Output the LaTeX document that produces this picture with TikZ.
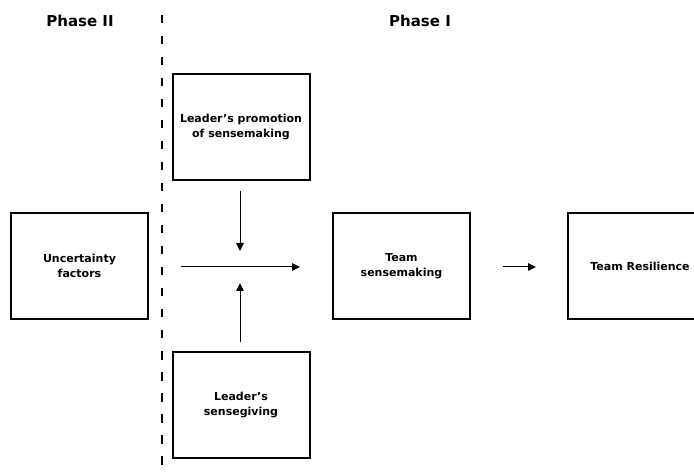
\documentclass[tikz,border=0pt]{standalone}
\usepackage{fontspec}
\setmainfont{DejaVu Sans}
\usetikzlibrary{arrows.meta}
\begin{document}
\begin{tikzpicture}[x=1pt,y=-1pt,
  box/.style={draw, line width=2pt, minimum width=137pt, minimum height=106pt,
    align=center, inner sep=0pt, font=\fontsize{11}{14.5}\selectfont\bfseries},
  phase/.style={font=\fontsize{15}{18}\selectfont\bfseries},
  flow/.style={line width=1pt, -{Triangle[length=8pt,width=7.5pt]}},
  divider/.style={line width=2.8pt, dash pattern=on 8.5pt off 12.5pt}]
  \useasboundingbox[fill=white] (0,0) rectangle (694,473);

  % phase headings
  \node[phase] (p2) at (80,21) {Phase II};
  \node[phase] (p1) at (420,21) {Phase I};

  % dashed separator between the phases
  \coordinate (sepTop) at (162,15);
  \coordinate (sepBot) at (162,480);
  \draw[divider] (sepTop) -- (sepBot);

  % boxes
  \node[box] (unc)  at (79.5,266) {Uncertainty\\factors};
  \node[box] (prom) at (241,127)  {Leader's promotion\\of sensemaking};
  \node[box] (give) at (241,405)  {Leader's\\sensegiving};
  \node[box] (team) at (401.5,266) {Team\\sensemaking};
  \node[box, minimum width=144pt] (res) at (640,266) {Team Resilience};

  % arrows
  \coordinate (hStart) at (181,267);
  \coordinate (hEnd)   at (300,267);
  \draw[flow] (hStart) -- (hEnd);

  \coordinate (dStart) at (240,191);
  \coordinate (dEnd)   at (240,251);
  \draw[flow] (dStart) -- (dEnd);

  \coordinate (uStart) at (240,342);
  \coordinate (uEnd)   at (240,283);
  \draw[flow] (uStart) -- (uEnd);

  \coordinate (rStart) at (503,267);
  \coordinate (rEnd)   at (536,267);
  \draw[flow] (rStart) -- (rEnd);
\end{tikzpicture}
\end{document}
